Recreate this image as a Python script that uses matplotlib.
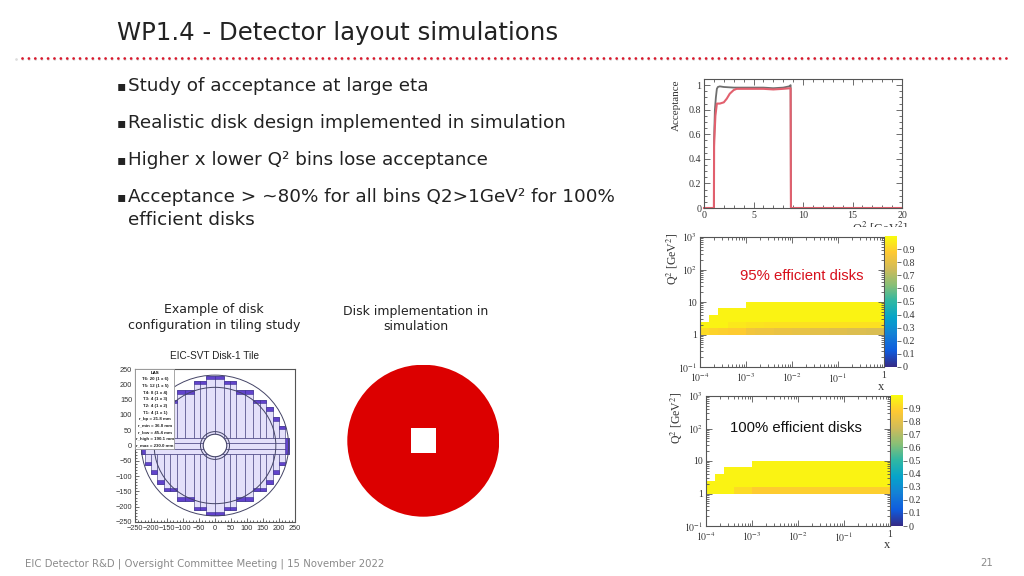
import numpy as np
import matplotlib
matplotlib.use("Agg")
import matplotlib.pyplot as plt
from matplotlib.colors import LinearSegmentedColormap
from matplotlib.patches import Circle, Rectangle
from matplotlib.ticker import FixedLocator, MultipleLocator, NullFormatter

W, H = 1024, 576

# slide text
title = "WP1.4 - Detector layout simulations"
bullets = [
    "Study of acceptance at large eta",
    "Realistic disk design implemented in simulation",
    "Higher x lower Q² bins lose acceptance",
    "Acceptance > ~80% for all bins Q2>1GeV² for 100%",
    "efficient disks",
]
bullet_marks = [True, True, True, True, False]
footer = "EIC Detector R&D | Oversight Committee Meeting | 15 November 2022"
page = "21"

# acceptance vs Q2
q2_gray = [0, 1.0, 1.02, 1.05, 1.1, 1.2, 1.3, 1.4, 1.6, 2, 3, 4, 5, 6, 7, 8, 8.6, 8.75, 8.78, 20]
acc_gray = [0, 0, 0.55, 0.65, 0.8, 0.9, 0.97, 0.985, 0.99, 0.985, 0.98, 0.98, 0.98, 0.98, 0.975, 0.98, 0.99, 1.0, 0, 0]
q2_red = [0, 1.0, 1.02, 1.05, 1.15, 1.3, 1.6, 2, 2.3, 2.6, 3, 3.3, 4, 5, 6, 7, 8, 8.75, 8.78, 20]
acc_red = [0, 0, 0.5, 0.57, 0.75, 0.85, 0.85, 0.86, 0.89, 0.93, 0.96, 0.97, 0.97, 0.97, 0.97, 0.965, 0.97, 0.975, 0, 0]

# x-Q2 acceptance maps
x_edges = [1e-4, 1.58e-4, 2.51e-4, 3.98e-4, 6.31e-4, 1e-3, 1.58e-3, 2.51e-3, 3.98e-3, 6.31e-3, 1e-2,
           1.58e-2, 2.51e-2, 3.98e-2, 6.31e-2, 0.1, 0.158, 0.251, 0.398, 0.631, 1.0]
q2_edges = [1.0, 1.58, 2.51, 3.98, 6.31, 10.0]
n = np.nan
eff95 = [
    [.92, .90, .89, .88, .88, .84, .83, .83, .82, .82, .81, .81, .80, .80, .79, .79, .78, .78, .77, .77],
    [.98, .98, .98, .95, .95, .94, .94, .93, .93, .93, .93, .93, .93, .93, .93, .93, .93, .93, .93, .93],
    [n, .98, .98, .98, .98, .98, .98, .98, .98, .98, .98, .98, .98, .98, .98, .98, .98, .98, .98, .98],
    [n, n, .98, .98, .98, .98, .98, .98, .98, .98, .98, .98, .98, .98, .98, .98, .98, .98, .98, .98],
    [n, n, n, n, n, .98, .98, .98, .98, .98, .98, .98, .98, .98, .98, .98, .98, .98, .98, .98],
]
eff100 = [
    [.98, .98, .98, .92, .92, .88, .88, .88, .89, .89, .89, .89, .89, .89, .89, .89, .89, .89, .89, .89],
    [.98, .98, .98, .98, .98, .98, .98, .98, .98, .98, .98, .98, .98, .98, .98, .98, .98, .98, .98, .98],
    [n, .98, .98, .98, .98, .98, .98, .98, .98, .98, .98, .98, .98, .98, .98, .98, .98, .98, .98, .98],
    [n, n, .98, .98, .98, .98, .98, .98, .98, .98, .98, .98, .98, .98, .98, .98, .98, .98, .98, .98],
    [n, n, n, n, n, .98, .98, .98, .98, .98, .98, .98, .98, .98, .98, .98, .98, .98, .98, .98],
]
cbar_ticks = [0, 0.1, 0.2, 0.3, 0.4, 0.5, 0.6, 0.7, 0.8, 0.9]
cbar_labels = ["0", "0.1", "0.2", "0.3", "0.4", "0.5", "0.6", "0.7", "0.8", "0.9"]

# tiling study disk, mm
stave_edges = [0, 27, 46, 65, 93, 120, 140, 160, 182, 200, 218]
stave_tops = [228, 212, 212, 180, 180, 150, 150, 125, 92, 65]
disk_radii = [36.8, 45.4, 190.1, 230.0]
legend_lines = ["T6: 20 (1 x 6)", "T5: 12 (1 x 5)", "T4: 8 (1 x 4)", "T3: 4 (1 x 3)", "T2: 4 (1 x 2)",
                "T1: 4 (1 x 1)", "r_bp = 21.8 mm", "r_min = 36.8 mm", "r_low = 45.4 mm",
                "r_high = 190.1 mm", "r_max = 230.0 mm"]

bird = LinearSegmentedColormap.from_list("bird", [
    (0.2082, 0.1664, 0.5293), (0.0592, 0.3599, 0.8684), (0.0780, 0.5041, 0.8385),
    (0.0232, 0.6419, 0.7914), (0.1802, 0.7178, 0.6425), (0.5301, 0.7492, 0.4662),
    (0.8186, 0.7328, 0.3499), (0.9956, 0.7862, 0.1968), (0.9764, 0.9832, 0.0539)])

plt.rcParams["font.family"] = "DejaVu Sans"
SERIF = "Liberation Serif"
GRAY = "#555555"

fig = plt.figure(figsize=(W / 100, H / 100), dpi=100, facecolor="white")


def px_axes(left, top, right, bottom, **kw):
    return fig.add_axes([left / W, 1 - bottom / H, (right - left) / W, (bottom - top) / H], **kw)


def root_style(ax, size=7.2):
    ax.tick_params(which="both", direction="in", top=True, right=True, color=GRAY, width=0.6,
                   labelsize=size, labelcolor="#333333", pad=2)
    ax.tick_params(which="major", length=4)
    ax.tick_params(which="minor", length=2)
    for s in ax.spines.values():
        s.set_color(GRAY)
        s.set_linewidth(0.8)
    for lab in ax.get_xticklabels() + ax.get_yticklabels():
        lab.set_family(SERIF)


# acceptance plot
ax = px_axes(704, 79, 902, 208)
ax.plot(q2_gray, acc_gray, color="#555555", lw=1.3, alpha=0.85, clip_on=False)
ax.plot(q2_red, acc_red, color="#e2606e", lw=1.5, clip_on=False)
ax.set_xlim(0, 20)
ax.set_ylim(0, 1.05)
ax.xaxis.set_major_locator(MultipleLocator(5))
ax.xaxis.set_minor_locator(MultipleLocator(1))
ax.yaxis.set_major_locator(FixedLocator([0, 0.2, 0.4, 0.6, 0.8, 1]))
ax.yaxis.set_minor_locator(MultipleLocator(0.05))
ax.set_yticklabels(["0", "0.2", "0.4", "0.6", "0.8", "1"])
root_style(ax)


def heat_panel(values, left, top, right, bottom, cleft, cright):
    ax = px_axes(left, top, right, bottom)
    mesh = ax.pcolormesh(x_edges, q2_edges, np.ma.masked_invalid(values), cmap=bird, vmin=0, vmax=1,
                         linewidth=0, rasterized=True)
    ax.set_xscale("log")
    ax.set_yscale("log")
    ax.set_xlim(1e-4, 1)
    ax.set_ylim(0.1, 1000)
    ax.set_xticks([1e-4, 1e-3, 1e-2, 1e-1, 1])
    ax.set_xticklabels(["$10^{-4}$", "$10^{-3}$", "$10^{-2}$", "$10^{-1}$", "1"], math_fontfamily="stix")
    ax.set_yticks([0.1, 1, 10, 100, 1000])
    ax.set_yticklabels(["$10^{-1}$", "1", "10", "$10^{2}$", "$10^{3}$"], math_fontfamily="stix")
    ax.xaxis.set_minor_formatter(NullFormatter())
    ax.yaxis.set_minor_formatter(NullFormatter())
    root_style(ax, size=7.0)
    ax.tick_params(axis="x", which="major", pad=3)
    cax = px_axes(cleft, top - 1, cright, bottom)
    cb = fig.colorbar(mesh, cax=cax)
    cb.set_ticks(cbar_ticks)
    cb.set_ticklabels(cbar_labels)
    cax.tick_params(length=3, width=0.6, color=GRAY, labelsize=7.2, labelcolor="#333333", pad=1)
    for lab in cax.get_yticklabels():
        lab.set_family(SERIF)
    cb.outline.set_visible(False)
    return ax


heat_panel(eff95, 700, 237, 884, 367, 885, 897)
heat_panel(eff100, 706, 396, 890, 526, 891, 903)

# tiling disk
ax = px_axes(135, 369, 295, 522)
edges = np.array(stave_edges)
widths = np.diff(edges)
tops = np.array(stave_tops)
for sign in (-1, 1):
    lefts = edges[:-1] if sign > 0 else -edges[1:]
    for vsign in (-1, 1):
        ax.bar(lefts, vsign * tops, widths, align="edge", color="#e4e0fa", edgecolor="#55508a", linewidth=0.5, zorder=1)
        ax.bar(lefts, vsign * 12, widths, bottom=vsign * (tops - 12), align="edge", color="#6243cc",
               edgecolor="#3c3090", linewidth=0.4, zorder=2)
ax.barh([-1, -1], [232, -232], 52, color="#e4e0fa", edgecolor="#55508a", linewidth=0.6, zorder=3)
ax.hlines([7, -13], -232, 232, color="#55508a", lw=0.6, zorder=3)
ax.barh([-1, -1], [14, -14], 52, left=[218, -218], color="#6243cc", edgecolor="#3c3090", linewidth=0.4, zorder=3)
ax.add_patch(Circle((0, 0), disk_radii[0], fc="white", ec="#444466", lw=0.8, zorder=4))
for r in disk_radii[1:]:
    ax.add_patch(Circle((0, 0), r, fc="none", ec="#444466", lw=0.7, zorder=4))
ax.set_xlim(-250, 250)
ax.set_ylim(-250, 250)
ax.xaxis.set_major_locator(MultipleLocator(50))
ax.yaxis.set_major_locator(MultipleLocator(50))
ax.xaxis.set_minor_locator(MultipleLocator(10))
ax.yaxis.set_minor_locator(MultipleLocator(10))
root_style(ax, size=5.3)
ax.tick_params(which="major", top=False, right=False, length=3)
ax.tick_params(which="minor", top=False, right=False, length=1.5)
for lab in ax.get_xticklabels() + ax.get_yticklabels():
    lab.set_family("Liberation Sans")
ax.add_patch(Rectangle((-250, -13), 123, 263, fc="white", ec="#999999", lw=0.6, zorder=5))
ax.text(-188, 238, "LAS", ha="center", va="center", fontsize=3.2, family="Liberation Sans", weight="bold", zorder=6)
for i, line in enumerate(legend_lines):
    ax.text(-188, 216 - i * 21.7, line, ha="center", va="center", fontsize=3.2, family="Liberation Sans",
            weight="bold", color="#222222", zorder=6)

# simulated disk, image-like axes in mm
disk_r = 230.0
hole_half = 37.0
ax2 = px_axes(347.3, 364.7, 499.3, 516.7)
ax2.add_patch(Circle((0, 0), disk_r, fc="#dc0000", ec="none"))
ax2.add_patch(Rectangle((-hole_half, -hole_half), 2 * hole_half, 2 * hole_half, fc="white", ec="none"))
ax2.set_xlim(-disk_r, disk_r)
ax2.set_ylim(-disk_r, disk_r)
ax2.axis("off")

# overlay in pixel coords for the slide text
ov = fig.add_axes([0, 0, 1, 1], zorder=10)
ov.set_xlim(0, W)
ov.set_ylim(H, 0)
ov.axis("off")
ov.patch.set_alpha(0)

TXT = "#222222"
ov.text(117, 33, title, fontsize=17.6, va="center", color=TXT)
for y, line, mark in zip([86, 123, 160, 197, 220], bullets, bullet_marks):
    ov.text(127.5, y, line, fontsize=13.2, va="center", color=TXT)
    if mark:
        ov.text(117, y, "▪", fontsize=10, va="center", color=TXT)

# dotted rule with its grey shadow
ov.plot([16, 1006], [59, 59], color="#dcdcdc", lw=2.0, ls=(0, (0.02, 2.28)), dash_capstyle="round")
ov.plot([22, 1006], [58, 58], color="#d8182c", lw=2.0, ls=(0, (0.02, 2.28)), dash_capstyle="round")

ov.text(214, 317.5, "Example of disk\nconfiguration in tiling study", fontsize=9, ha="center", va="center",
        color=TXT, linespacing=1.25)
ov.text(416, 319, "Disk implementation in\nsimulation", fontsize=9, ha="center", va="center", color=TXT,
        linespacing=1.25)
ov.text(215, 356, "EIC-SVT Disk-1 Tile", fontsize=7.2, ha="center", va="center", family="Liberation Sans", color=TXT)

ov.text(801.5, 276, "95% efficient disks", fontsize=10.7, ha="center", va="center", family="Liberation Sans", color="#d8101c")
ov.text(795.5, 428, "100% efficient disks", fontsize=10.7, ha="center", va="center", family="Liberation Sans", color="#111111")

ov.text(676, 105, "Acceptance", rotation=90, fontsize=8, family=SERIF, ha="center", va="center", color="#333333")
ov.text(673, 259, "Q$^2$ [GeV$^2$]", rotation=90, fontsize=8.5, family=SERIF, ha="center", va="center",
        color="#333333", math_fontfamily="stix")
ov.text(677, 418, "Q$^2$ [GeV$^2$]", rotation=90, fontsize=8.5, family=SERIF, ha="center", va="center",
        color="#333333", math_fontfamily="stix")
ov.text(880, 228, "Q$^2$ [GeV$^2$]", fontsize=9, family=SERIF, ha="center", va="center", color="#333333",
        math_fontfamily="stix")
ov.add_patch(Rectangle((840, 227), 80, 8, fc="white", ec="none", zorder=5))
ov.text(881.5, 386.5, "x", fontsize=9, family=SERIF, ha="center", va="center", color="#333333")
ov.text(887.5, 545.5, "x", fontsize=9, family=SERIF, ha="center", va="center", color="#333333")

ov.text(25, 564, footer, fontsize=7.3, va="center", color="#8a8a8a")
ov.text(987, 563, page, fontsize=7.3, ha="center", va="center", color="#8a8a8a")

fig.savefig("out.png", dpi=100, facecolor="white")
